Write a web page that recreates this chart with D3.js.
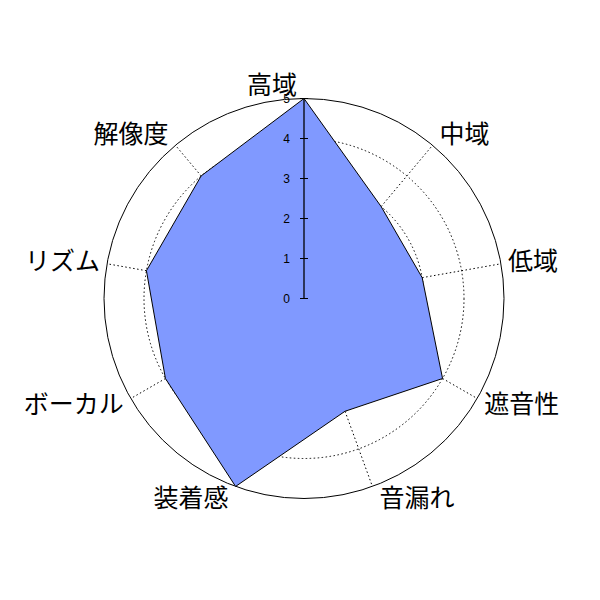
<!DOCTYPE html>
<html>
<head>
<meta charset="utf-8">
<script src="https://cdn.jsdelivr.net/npm/d3@7"></script>
<style>
    body { margin: 0; background: #fff; }
    svg { display: block; }
</style>
</head>
<body>
<div id="chart"></div>
<script>
//Radar chart data
var axisLabels = ["高域", "中域", "低域", "遮音性", "音漏れ", "装着感", "ボーカル", "リズム", "解像度"];
var scores = [5, 3, 3, 4, 3, 5, 4, 4, 4];
var tickValues = [0, 1, 2, 3, 4, 5];
var gridLevels = [1, 2, 3, 4];

(function (d3) {

    "use strict";

    var width = 600, height = 600;
    var cx = 304, cy = 298.5;
    var maxR = 200;

    var svg = d3.select("#chart").append("svg")
        .attr("width", width)
        .attr("height", height);

    var rScale = d3.scaleLinear().domain([0, 5]).range([0, maxR]);
    var aScale = d3.scaleLinear().domain([0, axisLabels.length]).range([0, 2 * Math.PI]);

    var g = svg.append("g").attr("transform", "translate(" + cx + "," + cy + ")");

    function px(a, r) { return r * Math.sin(a); }
    function py(a, r) { return -r * Math.cos(a); }

    //Dotted grid circles
    g.selectAll(".grid")
        .data(gridLevels)
        .enter().append("circle")
        .attr("r", function (d) { return rScale(d); })
        .attr("fill", "none")
        .attr("stroke", "#000")
        .attr("stroke-width", 1)
        .attr("stroke-dasharray", "1.5,2.5");

    //Outer circle
    g.append("circle")
        .attr("r", rScale(5))
        .attr("fill", "none")
        .attr("stroke", "#000")
        .attr("stroke-width", 1);

    //Dotted spokes
    g.selectAll(".spoke")
        .data(axisLabels)
        .enter().append("line")
        .attr("x1", 0).attr("y1", 0)
        .attr("x2", function (d, i) { return px(aScale(i), rScale(5)); })
        .attr("y2", function (d, i) { return py(aScale(i), rScale(5)); })
        .attr("stroke", "#000")
        .attr("stroke-width", 1)
        .attr("stroke-dasharray", "1.5,2.5");

    //Score polygon
    var line = d3.lineRadial()
        .angle(function (d, i) { return aScale(i); })
        .radius(function (d) { return rScale(d); })
        .curve(d3.curveLinearClosed);

    g.append("path")
        .attr("d", line(scores))
        .attr("fill", "#8099ff")
        .attr("stroke", "#000")
        .attr("stroke-width", 1);

    //Vertical axis with ticks
    g.append("line")
        .attr("x1", 0).attr("x2", 0)
        .attr("y1", -rScale(0)).attr("y2", -rScale(5))
        .attr("stroke", "#000")
        .attr("stroke-width", 1.3);

    g.selectAll(".tick")
        .data(tickValues)
        .enter().append("line")
        .attr("x1", -4).attr("x2", 4)
        .attr("y1", function (d) { return -rScale(d); })
        .attr("y2", function (d) { return -rScale(d); })
        .attr("stroke", "#000")
        .attr("stroke-width", 1);

    g.selectAll(".tickLabel")
        .data(tickValues)
        .enter().append("text")
        .attr("x", -14)
        .attr("y", function (d) { return -rScale(d); })
        .attr("dy", "0.36em")
        .attr("text-anchor", "end")
        .attr("font-family", "Liberation Sans, Arial, sans-serif")
        .attr("font-size", 12)
        .attr("fill", "#000")
        .text(function (d) { return d; });

    //Axis labels, anchored just outside the outer circle
    g.selectAll(".axisLabel")
        .data(axisLabels)
        .enter().append("text")
        .attr("x", function (d, i) {
            var a = aScale(i);
            var s = Math.sin(a) > 0.01 ? 1 : -1;
            return px(a, rScale(5)) + s * 7;
        })
        .attr("y", function (d, i) {
            var a = aScale(i);
            return py(a, rScale(5)) - 13 * Math.cos(a) - 1;
        })
        .attr("dy", "0.36em")
        .attr("text-anchor", function (d, i) {
            return Math.sin(aScale(i)) > 0.01 ? "start" : "end";
        })
        .attr("font-family", "Noto Sans CJK JP, sans-serif")
        .attr("font-size", 25)
        .attr("fill", "#000")
        .text(function (d) { return d; });

})(d3);
</script>
</body>
</html>
